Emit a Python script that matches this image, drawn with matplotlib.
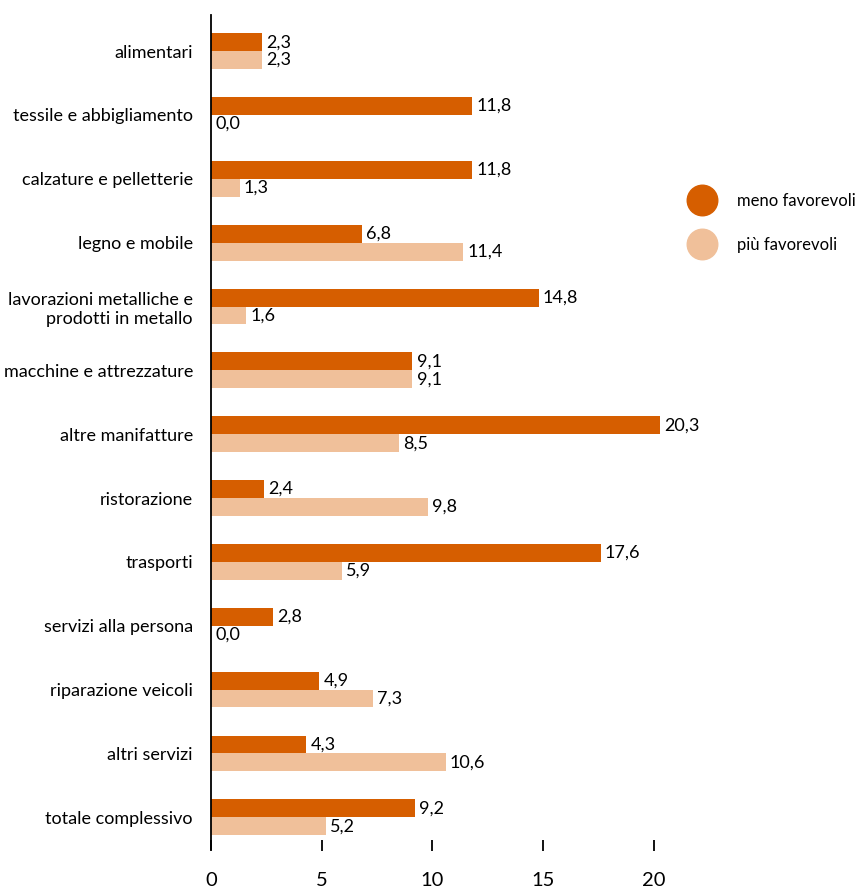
import numpy as np
import matplotlib
matplotlib.use('Agg')
import matplotlib.pyplot as plt
from matplotlib.lines import Line2D

plt.rcParams['font.family'] = ['Lato', 'DejaVu Sans']

# Settori e valori delle due serie
categories = ['alimentari', 'tessile e abbigliamento', 'calzature e pelletterie',
              'legno e mobile', 'lavorazioni metalliche e\nprodotti in metallo',
              'macchine e attrezzature', 'altre manifatture', 'ristorazione',
              'trasporti', 'servizi alla persona', 'riparazione veicoli',
              'altri servizi', 'totale complessivo']
menoFav = [2.3, 11.8, 11.8, 6.8, 14.8, 9.1, 20.3, 2.4, 17.6, 2.8, 4.9, 4.3, 9.2]
piuFav = [2.3, 0.0, 1.3, 11.4, 1.6, 9.1, 8.5, 9.8, 5.9, 0.0, 7.3, 10.6, 5.2]
xTicks = [0, 5, 10, 15, 20]

darkOrange = '#D65E00'
lightOrange = '#F0C09A'

fig = plt.figure(figsize=(8.64, 8.91), dpi=100)
ax = fig.add_axes([0.2442, 0.057, 0.538, 0.926])

y = np.arange(len(categories))
h = 0.28
ax.barh(y - h / 2, menoFav, height=h, color=darkOrange)
ax.barh(y + h / 2, piuFav, height=h, color=lightOrange)

# etichette dei valori con la virgola decimale
for yi, v in zip(y, menoFav):
    ax.annotate(f'{v:.1f}'.replace('.', ','), (v, yi - h / 2), xytext=(3, 0),
                textcoords='offset points', va='center', ha='left', fontsize=13)
for yi, v in zip(y, piuFav):
    ax.annotate(f'{v:.1f}'.replace('.', ','), (v, yi + h / 2), xytext=(3, 0),
                textcoords='offset points', va='center', ha='left', fontsize=13)

ax.set_yticks(y)
ax.set_yticklabels(categories, fontsize=13, linespacing=1.25)
ax.set_ylim(12.36, -0.564)
ax.set_xlim(0, 21)
ax.set_xticks(xTicks)
ax.set_xticklabels([str(t) for t in xTicks], fontsize=14.5)

for s in ['top', 'right', 'bottom']:
    ax.spines[s].set_visible(False)
ax.spines['left'].set_linewidth(1.3)
ax.tick_params(axis='y', length=0, pad=13)
ax.tick_params(axis='x', length=8, width=1.3, pad=15, direction='out')
ax.spines['left'].set_bounds(12.5, -0.564)

handles = [Line2D([], [], marker='o', linestyle='', markersize=22,
                  markerfacecolor=darkOrange, markeredgecolor=darkOrange),
           Line2D([], [], marker='o', linestyle='', markersize=22,
                  markerfacecolor=lightOrange, markeredgecolor=lightOrange)]
fig.legend(handles, ['meno favorevoli', 'più favorevoli'], loc='upper left',
           bbox_to_anchor=(0.776, 0.8), frameon=False, fontsize=12,
           labelspacing=1.65, handletextpad=1.1)

fig.savefig('out.png', dpi=100)
